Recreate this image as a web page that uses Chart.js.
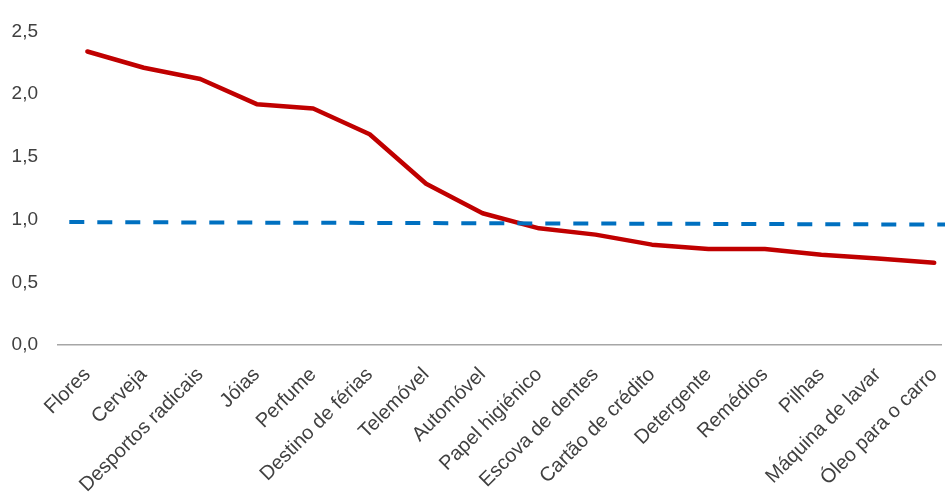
<!DOCTYPE html>
<html>
<head>
<meta charset="utf-8">
<script src="https://cdn.jsdelivr.net/npm/chart.js@4"></script>
<style>
  html, body { margin: 0; padding: 0; background: #fff; overflow: hidden; }
</style>
</head>
<body>
<canvas id="chart" width="945" height="493"></canvas>
<script>
const categories = ['Flores', 'Cerveja', 'Desportos radicais', 'Jóias', 'Perfume', 'Destino de férias',
  'Telemóvel', 'Automóvel', 'Papel higiénico', 'Escova de dentes', 'Cartão de crédito', 'Detergente',
  'Remédios', 'Pilhas', 'Máquina de lavar', 'Óleo para o carro'];
const ratioValues = [2.34, 2.21, 2.12, 1.92, 1.885, 1.68, 1.285, 1.05, 0.93, 0.88, 0.80, 0.765, 0.765, 0.72, 0.69, 0.655];
// dashed reference line: value at left end, value at right end
const referenceValues = [0.98, 0.96];
const yTicks = [0, 0.5, 1.0, 1.5, 2.0, 2.5];

const textColor = '#404040';
const font = 'Liberation Sans, Arial, sans-serif';

const ctx = document.getElementById('chart').getContext('2d');

new Chart(ctx, {
  type: 'line',
  data: {
    datasets: [{
      label: 'Referência',
      data: [{ x: -0.32, y: referenceValues[0] }, { x: 15.3, y: referenceValues[1] }],
      borderColor: '#0070C0',
      borderWidth: 4,
      borderDash: [15, 13],
      pointRadius: 0,
      clip: false,
      order: 0
    }, {
      label: 'Rácio',
      data: ratioValues.map((v, i) => ({ x: i, y: v })),
      borderColor: '#C00000',
      borderWidth: 4.5,
      borderJoinStyle: 'round',
      borderCapStyle: 'round',
      pointRadius: 0,
      tension: 0,
      order: 1
    }]
  },
  options: {
    responsive: false,
    animation: false,
    layout: { padding: { top: 28, right: 4, left: 0, bottom: 0 } },
    plugins: { legend: { display: false }, tooltip: { enabled: false } },
    scales: {
      x: {
        type: 'linear',
        min: -0.52,
        max: 15.12,
        afterBuildTicks: (scale) => {
          scale.ticks = categories.map((c, i) => ({ value: i }));
        },
        afterFit: (scale) => {
          scale.height = 148;
          scale.paddingLeft = 0;
          scale.paddingRight = 0;
        },
        grid: { display: false, drawTicks: false },
        border: { display: true, color: '#a6a6a6', width: 1.5 },
        ticks: {
          autoSkip: false,
          minRotation: 45,
          maxRotation: 45,
          padding: 18,
          color: textColor,
          font: { family: font, size: 20 },
          callback: (v) => categories[v]
        }
      },
      y: {
        min: 0,
        max: 2.5,
        afterBuildTicks: (scale) => {
          scale.ticks = yTicks.map(v => ({ value: v }));
        },
        afterFit: (scale) => { scale.width = 58; },
        grid: { display: false, drawTicks: false },
        border: { display: false },
        ticks: {
          padding: 20,
          color: textColor,
          font: { family: font, size: 19 },
          callback: (v) => v.toFixed(1).replace('.', ',')
        }
      }
    }
  }
});
</script>
</body>
</html>
